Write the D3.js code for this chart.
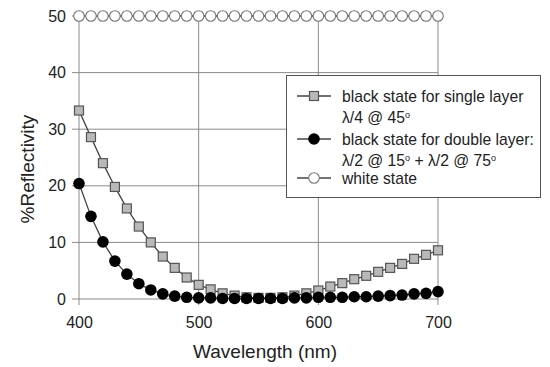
<!DOCTYPE html>
<html>
<head>
<meta charset="utf-8">
<script src="https://cdn.jsdelivr.net/npm/d3@7"></script>
<style>
  body { margin: 0; background: #fff; }
  text { font-family: "Liberation Sans", Arial, sans-serif; fill: #222; }
</style>
</head>
<body>
<div id="chart"></div>
<script>
// wavelength samples, every 10 nm
var wavelengths = d3.range(400, 701, 10)

var singleLayer = [33.3, 28.6, 24.0, 19.8, 16.0, 12.8, 10.0, 7.5, 5.5, 3.8,
                   2.5, 1.7, 1.0, 0.6, 0.3, 0.2, 0.2, 0.3, 0.6, 1.0,
                   1.5, 2.2, 2.8, 3.5, 4.1, 4.8, 5.5, 6.2, 7.1, 7.8, 8.6]

var doubleLayer = [20.4, 14.6, 10.1, 6.7, 4.4, 2.7, 1.6, 0.9, 0.5, 0.3,
                   0.2, 0.2, 0.1, 0.1, 0.1, 0.1, 0.1, 0.1, 0.2, 0.2,
                   0.3, 0.3, 0.3, 0.4, 0.4, 0.5, 0.6, 0.7, 0.9, 1.0, 1.3]

var whiteState = wavelengths.map(function() { return 50 })

var xTicks = [400, 500, 600, 700]
var yTicks = [0, 10, 20, 30, 40, 50]

var w = 550, h = 367
var plotL = 79, plotR = 438, plotT = 16, plotB = 299

var svg = d3.select("#chart").append("svg")
  .attr("width", w)
  .attr("height", h)

var x = d3.scaleLinear().domain([400, 700]).range([plotL, plotR])
var y = d3.scaleLinear().domain([0, 50]).range([plotB, plotT])

// gridlines
var grid = svg.append("g").attr("stroke", "#8a8a8a").attr("stroke-width", 1)
grid.selectAll("line.h").data(yTicks).enter().append("line")
  .attr("x1", plotL - 7).attr("x2", plotR)
  .attr("y1", function(d) { return y(d) }).attr("y2", function(d) { return y(d) })
grid.selectAll("line.v").data(xTicks).enter().append("line")
  .attr("x1", function(d) { return x(d) }).attr("x2", function(d) { return x(d) })
  .attr("y1", plotT).attr("y2", plotB + 6)

// axes: labels only, lines drawn above
var yAxis = d3.axisLeft(y).tickValues(yTicks).tickSize(0).tickPadding(13)
var ya = svg.append("g").attr("transform", "translate(" + plotL + ",0)").call(yAxis)
ya.select(".domain").remove()
ya.selectAll("text").style("font-size", "16px").attr("fill", "#222")

var xAxis = d3.axisBottom(x).tickValues(xTicks).tickSize(0).tickPadding(18)
var xa = svg.append("g").attr("transform", "translate(0," + plotB + ")").call(xAxis)
xa.select(".domain").remove()
xa.selectAll("text").style("font-size", "16px").attr("fill", "#222")

svg.append("text")
  .attr("transform", "translate(34,169) rotate(-90)")
  .attr("text-anchor", "middle")
  .style("font-size", "19px")
  .text("%Reflectivity")

svg.append("text")
  .attr("x", 265)
  .attr("y", 358)
  .attr("text-anchor", "middle")
  .style("font-size", "19px")
  .text("Wavelength (nm)")

var line = d3.line()
  .x(function(d, i) { return x(wavelengths[i]) })
  .y(function(d) { return y(d) })

function drawSeries(values, kind) {
  var g = svg.append("g")
  g.append("path").attr("d", line(values))
    .attr("fill", "none").attr("stroke", "#444").attr("stroke-width", 1.3)
  drawMarkers(g, values.map(function(v, i) { return [x(wavelengths[i]), y(v)] }), kind)
}

function drawMarkers(g, pts, kind) {
  if (kind == "square") {
    g.selectAll("rect").data(pts).enter().append("rect")
      .attr("x", function(d) { return d[0] - 4.5 }).attr("y", function(d) { return d[1] - 4.5 })
      .attr("width", 9).attr("height", 9)
      .attr("fill", "#b9b9b9").attr("stroke", "#555").attr("stroke-width", 1.2)
  } else if (kind == "dot") {
    g.selectAll("circle").data(pts).enter().append("circle")
      .attr("cx", function(d) { return d[0] }).attr("cy", function(d) { return d[1] })
      .attr("r", 5.8).attr("fill", "#000")
  } else {
    g.selectAll("circle").data(pts).enter().append("circle")
      .attr("cx", function(d) { return d[0] }).attr("cy", function(d) { return d[1] })
      .attr("r", 5.3).attr("fill", "#fff").attr("stroke", "#777").attr("stroke-width", 1.1)
  }
}

drawSeries(whiteState, "open")
drawSeries(singleLayer, "square")
drawSeries(doubleLayer, "dot")

// legend
var legend = svg.append("g")
legend.append("rect")
  .attr("x", 286.5).attr("y", 75.5).attr("width", 254).attr("height", 122)
  .attr("fill", "#fff").attr("stroke", "#555").attr("stroke-width", 1)

var legendItems = [
  {kind: "square", lines: ["black state for single layer", "λ/4 @ 45°"]},
  {kind: "dot", lines: ["black state for double layer:", "λ/2 @ 15° + λ/2 @ 75°"]},
  {kind: "open", lines: ["white state"]}
]
var rowY = [96, 139, 178]
legendItems.forEach(function(item, i) {
  var cy = rowY[i]
  var g = legend.append("g")
  g.append("line").attr("x1", 297).attr("x2", 331).attr("y1", cy).attr("y2", cy)
    .attr("stroke", "#444").attr("stroke-width", 1.3)
  drawMarkers(g, [[314, cy]], item.kind)
  item.lines.forEach(function(t, j) {
    var txt = g.append("text").attr("x", 342).attr("y", cy + 5.5 + j * 21.5)
      .style("font-size", "15.7px")
    if (j == 1) {
      // degree signs drawn as small raised "o"
      var parts = t.split("°")
      parts.forEach(function(p, k) {
        var sp = txt.append("tspan").text(p)
        if (k > 0) sp.attr("dy", 5)
        if (k < parts.length - 1) {
          txt.append("tspan").attr("dy", -5).style("font-size", "9px").text("o")
        }
      })
    } else {
      txt.text(t)
    }
  })
})
</script>
</body>
</html>
